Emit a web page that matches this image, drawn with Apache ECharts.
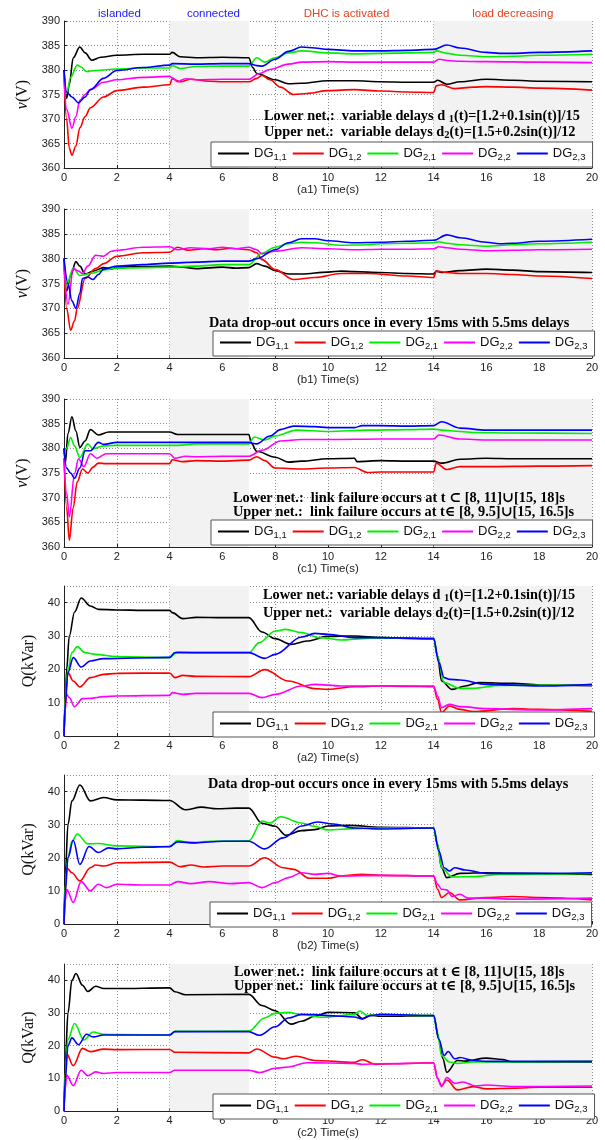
<!DOCTYPE html>
<html><head><meta charset="utf-8">
<script src="https://cdn.jsdelivr.net/npm/echarts@6/dist/echarts.min.js"></script>
<style>html,body{margin:0;padding:0;background:#fff}#c{width:605px;height:1140px}</style>
</head><body><div id="c"></div>
<script>
// ---------- data ----------
const seriesNames = ['DG1,1','DG1,2','DG2,1','DG2,2','DG2,3'];
const panelTags = ['(a1)','(b1)','(c1)','(a2)','(b2)','(c2)'];
const xTicks = {min:0, max:20, step:2};
const vTicks = {min:360, max:390, step:5};
const qTicks = {min:0, max:45, step:10};
const shadedSpans = [[4,7],[14,20]];
const phaseLabels = ['islanded','connected','DHC is activated','load decreasing'];
const phaseTimes = [2.1, 5.66, 10.7, 17.0];

// (a1) voltage, variable delays
const a1_DG11 = [[0,380],[0.1,374.2],[0.2,377],[0.35,382.5],[0.6,384.7],[0.8,383.5],[1.05,382],[1.4,382.6],[2,383],[3,383.2],[4,383.2],[4.1,383.6],[4.4,382.7],[5,382.5],[6,382.6],[7,382.5],[7.15,380.5],[7.3,379.3],[8,378],[8.5,377.2],[9,377.3],[10,377.8],[11,377.8],[12,377.6],[13,377.5],[14,377.5],[14.15,377.9],[14.5,377.1],[15,377.6],[16,378.1],[17,377.9],[18,377.7],[20,377.6]];
const a1_DG12 = [[0,379],[0.1,370],[0.2,364],[0.3,362.6],[0.45,364.5],[0.6,368.2],[0.8,370.5],[1,372.3],[1.5,374.5],[2,375.8],[3,376.5],[4,377],[4.1,378.2],[4.4,377.6],[4.8,378.1],[5.5,377.7],[6,377.6],[7,377.6],[7.3,378.3],[7.5,378.9],[7.8,378],[8.2,376.5],[8.7,375],[9.2,375.2],[10,375.8],[11,376],[12,375.7],[13,375.5],[14,375.4],[14.1,376.8],[14.3,377],[14.8,376.2],[15.5,376.5],[16,376.6],[17,376.5],[18,376.3],[20,375.9]];
const a1_DG21 = [[0,379],[0.1,375.2],[0.25,378.5],[0.5,381],[0.65,380.6],[0.85,379.7],[1.2,379.9],[2,380.2],[3,380.4],[4,380.4],[4.1,380.9],[4.4,380.3],[5,380.7],[6,380.8],[7,380.8],[7.3,382.5],[7.6,381.6],[8,382.5],[8.5,383.5],[9,383.9],[10,383.5],[11,383.3],[12,383.4],[13,383.5],[14,383.6],[14.1,383.9],[14.5,383.4],[15,383],[16,382.7],[17,382.8],[18,383],[20,383.2]];
const a1_DG22 = [[0,379],[0.1,372],[0.3,368.1],[0.45,370.5],[0.6,373.8],[0.8,375],[1,376],[1.5,377.5],[2,378],[3,378.5],[4,378.7],[4.1,378.4],[4.3,377.6],[4.6,378.2],[5,378],[6,378.1],[7,378.1],[7.4,379.3],[7.8,380.1],[8.5,381.2],[9,381.6],[10,381.7],[11,381.6],[12,381.6],[13,381.6],[14,381.6],[14.2,382.2],[14.6,381.9],[15,381.8],[16,381.7],[18,381.6],[20,381.5]];
const a1_DG23 = [[0,380],[0.1,375.5],[0.3,374.5],[0.55,373.3],[0.8,374.5],[1,376],[1.5,378.3],[2,379.9],[3,380.5],[4,381],[4.1,381.3],[5,381.2],[6,381.3],[7,381.3],[7.3,380.9],[7.5,380.8],[8,382.2],[8.5,383.8],[9,384.7],[9.5,384.5],[10,384.2],[11,383.9],[12,383.9],[13,384],[14,384.2],[14.5,385.1],[15,384.5],[16,383.6],[16.5,383.4],[17,383.4],[18,383.6],[20,383.9]];

// (b1) voltage, data drop-out
const b1_DG11 = [[0,380],[0.1,373.5],[0.25,376.5],[0.45,379.4],[0.6,378.5],[0.8,376.9],[1.1,377.5],[1.5,378.2],[1.8,377.9],[2,378.3],[3,378.4],[4,378.5],[4.5,378.3],[5,378],[6,378.3],[6.5,378.1],[7,378.2],[7.3,379],[7.6,378.5],[8,377.6],[8.5,376.9],[9,376.9],[10,377.3],[10.5,377.5],[11,377.4],[12,377.2],[13,377.0],[14,376.9],[14.1,377.5],[14.3,377.2],[15,377.6],[16,377.9],[17,377.7],[18,377.4],[20,377.2]];
const b1_DG12 = [[0,379],[0.1,370],[0.25,365.6],[0.4,367.5],[0.5,370],[0.8,376],[1.2,378],[1.5,379],[2,380.5],[3,381.2],[4,381.3],[4.3,382.3],[4.7,381.7],[5.3,382],[5.8,381.8],[6.3,382.1],[7,381.8],[7.3,381.2],[7.5,379.8],[8,377.8],[8.7,375.8],[9.5,376.2],[10.5,377],[11.5,377],[13,376.5],[14,376.2],[14.1,377.5],[14.5,377.2],[15,377],[16,377],[17,376.8],[18,376.5],[20,376]];
const b1_DG21 = [[0,379],[0.1,374.7],[0.35,378.1],[0.6,376.6],[1,377],[1.6,377.8],[2,378.1],[3,378.2],[4,378.3],[5,378.5],[6,378.8],[7,378.8],[7.5,381.1],[8,382.3],[8.5,383],[9,383.3],[9.5,383.2],[10.5,382.7],[11.5,382.8],[12,383],[13,383.1],[14,383.2],[14.2,383.4],[14.5,383.1],[15,382.8],[16,382.5],[17,382.8],[18,383],[20,383.3]];
const b1_DG22 = [[0,379],[0.15,370.8],[0.35,378],[0.55,377.5],[0.7,377],[0.9,378.5],[1.2,380.7],[1.5,380.5],[1.8,381.5],[2,381.7],[3,382.3],[4,382.4],[4.3,381.8],[4.8,382.2],[5.5,382],[6,382.3],[6.5,382],[7,382.3],[7.3,381.8],[7.5,381],[8,381.5],[9,382.2],[10,382],[11,381.8],[12,381.9],[13,381.9],[14,382],[14.2,382.4],[14.5,382.2],[15,381.9],[16,381.6],[17,381.7],[18,381.8],[20,381.9]];
const b1_DG23 = [[0,380.1],[0.15,375],[0.3,371.5],[0.45,370],[0.6,373],[0.7,376],[0.9,376.3],[1.1,375.8],[1.3,376.8],[1.5,377.9],[2,378.5],[3,378.8],[4,379.1],[5,379.3],[6,379.5],[7,379.5],[7.3,380],[8,381.8],[8.5,383.2],[9,384],[9.5,384],[10,383.6],[11,383.2],[12,383.3],[13,383.5],[14,383.7],[14.5,384.8],[15,384.2],[16,383.3],[16.5,383],[17,383.1],[18,383.5],[20,383.9]];

// (c1) voltage, link failure
const c1_DG11 = [[0,380],[0.05,377],[0.15,383],[0.3,386.4],[0.45,383.5],[0.6,380.2],[0.8,381.5],[1,383.8],[1.3,382.7],[1.7,383.3],[2,383.3],[3,383.3],[4,383.3],[4.3,382.8],[5,382.8],[6,382.8],[7,382.8],[7.1,381],[7.3,379.4],[8,378.2],[8.5,377.2],[9,377.4],[10,377.9],[11,378],[11.1,377.3],[12,377.5],[13,377.4],[14,377.4],[14.3,377],[15,377.8],[16,378],[17,377.9],[20,377.9]];
const c1_DG12 = [[0,378],[0.1,368],[0.2,361.4],[0.35,368],[0.5,373.2],[0.7,375.8],[0.9,375],[1.1,376.2],[1.3,377],[1.6,376.9],[2,376.9],[4,376.9],[4.1,377.7],[4.5,377.3],[5,377.5],[6,377.4],[7,377.6],[7.3,378.3],[7.6,377.5],[8,376],[9,375.8],[10,376],[11,376.1],[11.5,375.1],[12,375.2],[13,375.2],[14,375.2],[14.1,377],[14.5,375.7],[15,376.3],[16,376.3],[18,376.4],[20,376.5]];
const c1_DG21 = [[0,379],[0.1,380],[0.25,382.2],[0.4,380.5],[0.6,378.1],[0.9,380.9],[1.1,379.9],[1.5,380.5],[2,380.6],[3,380.6],[4,380.6],[4.3,380.6],[5,380.9],[6,380.9],[7,380.9],[7.2,382.3],[7.6,381.7],[8,382.5],[8.8,383.7],[10,383.4],[11.5,383.7],[13,383.8],[14,383.9],[14.3,383.7],[15,383.4],[15.5,383.2],[17,383.1],[20,383.0]];
const c1_DG22 = [[0,378],[0.1,371],[0.2,366.1],[0.4,374.9],[0.55,377.9],[0.75,376.3],[1,378.9],[1.25,378],[1.6,378.9],[2,378.9],[4,378.9],[4.2,378],[4.6,378.4],[5,378.3],[6,378.4],[7,378.4],[7.5,379.6],[8.2,381.5],[9,381.8],[10,381.8],[12,381.9],[14,381.9],[14.2,382.7],[15,381.9],[16,381.7],[20,381.7]];
const c1_DG23 = [[0,380],[0.1,376],[0.25,375],[0.4,373.9],[0.6,376],[0.8,379.5],[1,379.5],[1.3,381.2],[1.5,380.8],[2,381.2],[4,381.2],[5,381.2],[7,381.2],[7.3,380.9],[7.8,382.5],[8.2,383.8],[8.7,384.5],[9.5,384.4],[10,384.2],[11,384.2],[11.3,384.6],[12,384.6],[13,384.5],[14,384.6],[14.3,385.4],[15,384.1],[16,383.7],[18,383.7],[20,383.7]];

// (a2) reactive power, variable delays
const a2_DG11 = [[0,0],[0.05,10],[0.1,20],[0.2,30],[0.4,37.2],[0.65,41.4],[1,39],[1.3,38],[2,37.8],[3,37.7],[4,37.7],[4.1,37],[4.5,35.2],[5,35.6],[6,35.5],[7,35.5],[7.5,31.2],[8,29.2],[8.6,27.5],[9.2,28.5],[10,29.9],[11,30],[12,29.5],[13,29.3],[14,29.2],[14.15,24],[14.3,16.5],[14.7,14],[15.2,15],[15.7,16],[17,15.8],[18,15.3],[20,15.1]];
const a2_DG12 = [[0,0],[0.05,12],[0.15,19],[0.35,16.5],[0.6,14.7],[1,17.5],[1.5,18.5],[2,18.8],[4,18.9],[4.2,17.5],[4.5,18.2],[5,17.9],[7,17.8],[7.6,19.9],[8.5,16.5],[9.5,14.2],[10,14],[11,14.8],[12,15],[13,14.9],[14,14.8],[14.15,11],[14.3,7],[14.6,9],[15,8],[15.5,7.3],[17,8.2],[18,8],[20,7.4]];
const a2_DG21 = [[0,0],[0.05,12],[0.15,20],[0.3,25],[0.5,26.8],[0.8,25],[1.2,24.5],[2,23.8],[4,23.5],[4.3,25.2],[5,25],[7,25],[7.4,28],[8,31.5],[8.4,32],[9,31],[9.7,29.5],[10.5,28.8],[11.5,29.3],[12,29.5],[14,29.2],[14.15,24],[14.4,16],[15,14.3],[15.5,14.3],[16.5,15.2],[20,15.3]];
const a2_DG22 = [[0,0],[0.05,8],[0.1,12.5],[0.2,11.5],[0.4,8.8],[0.7,11.2],[1,11.3],[1.5,11.8],[2,12],[4,12.2],[4.1,13],[4.5,12.5],[5,12.8],[7,12.8],[7.5,11.5],[8,12.5],[9,15],[9.5,15.5],[10.5,15],[12,15],[14,15],[14.15,12],[14.3,8.5],[14.6,9.5],[15,8.8],[16,8.2],[18,7.8],[20,8.2]];
const a2_DG23 = [[0,0],[0.05,10],[0.15,19],[0.35,23.5],[0.65,20.7],[1,22.5],[1.5,23.2],[4,23.6],[4.2,25],[7,25],[7.6,23.3],[8,24.5],[9,29.7],[9.5,30.8],[10,30.5],[11,29.5],[12,29.5],[14,29.2],[14.2,22],[14.4,17.5],[14.6,17],[15,16.8],[16,15.5],[18,15],[20,15.5]];

// (b2) reactive power, data drop-out
const b2_DG11 = [[0,0],[0.05,15],[0.15,30],[0.3,37.2],[0.6,42],[1,37.2],[1.5,38.2],[2,37.5],[3,37.4],[4,37.3],[4.6,34.5],[5.2,35.3],[5.8,34.8],[6.5,35],[7,35],[7.5,30.4],[8,29.5],[8.4,26.8],[9,28.2],[9.5,28.5],[10,29.6],[10.8,29.8],[12,29.2],[14,29],[14.15,24],[14.3,17],[14.5,14],[15,15.3],[16,15.5],[17,15.3],[20,15]];
const b2_DG12 = [[0,0],[0.05,10],[0.1,17],[0.3,15.5],[0.6,13],[1,17],[1.2,17.8],[1.5,17.5],[2,18.5],[4,18.7],[4.4,17.3],[4.8,17.8],[5.3,17.2],[6,17.5],[7,17.5],[7.6,20],[8.3,17],[8.7,16.5],[9.3,13.8],[10,13.8],[10.5,14.5],[11.3,15],[12,14.7],[14,14.5],[14.15,10.5],[14.3,8],[14.6,9.5],[15,7.3],[16,8],[17,8.3],[18,8],[20,7.3]];
const b2_DG21 = [[0,0],[0.05,12],[0.15,20],[0.3,25],[0.5,27.2],[0.9,24.2],[1.3,24.3],[2,23.6],[4,23.3],[4.3,25.2],[4.8,24.5],[5.5,25],[7,25.1],[7.5,31.1],[7.8,30.5],[8.2,32.4],[9,30.5],[9.5,29.5],[10,28.4],[11,28.8],[12,29],[14,29],[14.15,24],[14.3,17],[14.7,14.2],[15.5,14.3],[16.5,15],[20,15.3]];
const b2_DG22 = [[0,0],[0.05,7],[0.1,10.5],[0.35,6.5],[0.65,12.8],[1,10],[1.3,12],[1.6,11],[2,12],[3,11.8],[4,11.8],[4.3,12.8],[4.8,12.2],[5.5,12.8],[6.3,12.2],[7,12.5],[7.5,11],[8,12.5],[8.5,14],[9,15.5],[9.5,15],[10,15.3],[10.5,14.5],[12,14.7],[14,14.5],[14.15,12],[14.3,10.5],[14.5,10.3],[14.7,8.3],[15,9],[15.3,7.8],[16,7.8],[17,7.5],[20,7.8]];
const b2_DG23 = [[0,0],[0.05,10],[0.15,20],[0.35,25.3],[0.6,18],[0.95,23.4],[1.3,21.6],[1.7,23],[2,22.7],[3,23.2],[4,23.4],[4.3,24.8],[5,24.5],[6,25],[7,25],[7.6,22.7],[8.3,26],[9,29.6],[9.6,30.8],[10.2,30.2],[11,29],[12,28.7],[14,29],[14.2,22],[14.4,17],[14.6,16],[14.8,17],[15.2,16.3],[16,15.3],[18,15.3],[20,15.5]];

// (c2) reactive power, link failure
const c2_DG11 = [[0,0],[0.05,15],[0.15,30],[0.3,40],[0.45,42.1],[0.7,38.5],[0.9,36.6],[1.2,38.2],[1.5,37.5],[2,37.5],[4,37.7],[4.2,36.5],[4.6,35.6],[7,35.7],[7.5,32.3],[8,30.7],[8.6,26.6],[9,27.5],[9.5,29],[10,30.2],[11,30.1],[11.3,28.3],[11.6,29.3],[12,29],[14,29.2],[14.2,22],[14.35,16],[14.5,11.9],[14.9,15.5],[15.2,15.3],[16,16.2],[16.6,15.8],[17,15],[20,15]];
const c2_DG12 = [[0,0],[0.05,10],[0.1,17.5],[0.35,13.9],[0.7,19.2],[1,18.2],[1.5,18.95],[2,18.8],[4,18.85],[4.2,18],[7,17.8],[7.3,19],[8,16.5],[8.3,16],[8.8,16.8],[9.5,15.5],[11,14.9],[11.3,15.7],[11.8,14.3],[12.5,14.5],[14,14.8],[14.15,10],[14.3,7.8],[14.5,9.5],[14.9,6.5],[15.5,7.5],[16,6.8],[17,7],[18,7.3],[20,7.3]];
const c2_DG21 = [[0,0],[0.05,12],[0.15,21.9],[0.4,26.8],[0.75,21.8],[1.1,24.2],[1.5,23.5],[2,23.4],[4,23.3],[4.2,24.4],[7,24.5],[7.6,28.5],[8,29.9],[8.5,30.2],[9,29.5],[9.8,28.7],[11,29.5],[11.2,30.6],[11.5,29.2],[12,29.5],[14,29.2],[14.15,24],[14.3,17],[14.6,15],[14.9,14.6],[15.5,15],[16,15],[20,15.2]];
const c2_DG22 = [[0,0],[0.05,7],[0.1,11],[0.35,7.8],[0.65,12.5],[0.9,10.8],[1.2,12],[1.5,11.5],[2,11.8],[4,11.8],[4.2,12.5],[7,12.5],[7.4,11.8],[8,13.1],[8.5,13.5],[9.2,14.8],[10,14.7],[11,14.6],[11.3,14.3],[12,14.5],[14,14.7],[14.15,10],[14.3,7.5],[14.5,10.3],[14.8,8.5],[15.1,8.9],[15.6,7.7],[16,8],[17,7.5],[20,7.7]];
const c2_DG23 = [[0,0],[0.05,10],[0.15,20],[0.3,22.4],[0.55,20.3],[0.85,23.5],[1.1,22.7],[1.5,23.3],[4,23.3],[4.2,24.3],[7,24.3],[7.4,23.2],[8,25.8],[8.5,28.5],[9,29.6],[9.5,29.5],[10,29.2],[11,28.8],[11.3,28.2],[11.6,29.2],[12,29.6],[14,29.2],[14.2,22],[14.4,17],[14.55,18.25],[14.8,16],[15,16.4],[15.5,15.5],[16,15.2],[20,15.2]];

const annotations = [
  ['{b|Lower net.:  variable delays d }{s|1}{b|(t)=[1.2+0.1sin(t)]/15}', '{b|Upper net.:  variable delays d}{s|2}{b|(t)=[1.5+0.2sin(t)]/12}'],
  ['{b|Data drop-out occurs once in every 15ms with 5.5ms delays}'],
  ['{b|Lower net.:  link failure occurs at t \u2282 [8, 11]\u222A[15, 18]s}', '{b|Upper net.:  link failure occurs at t\u2208 [8, 9.5]\u222A[15, 16.5]s}'],
  ['{b|Lower net.: variable delays d }{s|1}{b|(t)=[1.2+0.1sin(t)]/15}', '{b|Upper net.:  variable delays d}{s|2}{b|(t)=[1.5+0.2sin(t)]/12}'],
  ['{b|Data drop-out occurs once in every 15ms with 5.5ms delays}'],
  ['{b|Lower net.:  link failure occurs at t \u2208 [8, 11]\u222A[15, 18]s}', '{b|Upper net.:  link failure occurs at t\u2208 [8, 9.5]\u222A[15, 16.5]s}']
];

// ---------- layout (styling only) ----------
const panelData = [
  [a1_DG11,a1_DG12,a1_DG21,a1_DG22,a1_DG23],
  [b1_DG11,b1_DG12,b1_DG21,b1_DG22,b1_DG23],
  [c1_DG11,c1_DG12,c1_DG21,c1_DG22,c1_DG23],
  [a2_DG11,a2_DG12,a2_DG21,a2_DG22,a2_DG23],
  [b2_DG11,b2_DG12,b2_DG21,b2_DG22,b2_DG23],
  [c2_DG11,c2_DG12,c2_DG21,c2_DG22,c2_DG23]
];
const colors = ['#000000','#ff0000','#00ee00','#ff00ff','#0000ff'];
const gridTops = [21, 209, 399, 586, 775, 964];
const gridHeights = [147, 149, 148, 150, 149, 150];
const legendPos = [[211,142],[213,331],[211,520],[213,712],[210,902],[213,1094]];
const annotPos = [[264,[116,132]],[209,[323]],[233,[498,512]],[263,[595,613]],[208,[784]],[234,[972,986]]];
const GL = 64, GW = 528;

const grid = [], xAxis = [], yAxis = [], series = [], legend = [], graphic = [];
const serif = '"Liberation Serif", "DejaVu Serif", serif';
const sans = 'Arial, "Liberation Sans", Helvetica, sans-serif';

panelData.forEach((pd, i) => {
  const isV = i < 3;
  const yt = isV ? vTicks : qTicks;
  grid.push({left: GL, width: GW, top: gridTops[i], height: gridHeights[i], containLabel: false});
  xAxis.push({
    type: 'value', gridIndex: i, min: xTicks.min, max: xTicks.max, interval: xTicks.step,
    name: panelTags[i] + ' Time(s)', nameLocation: 'middle', nameGap: 15,
    nameTextStyle: {fontFamily: sans, fontSize: 11.5, color: '#222'},
    axisLine: {show: true, onZero: false, lineStyle: {color: '#222', width: 1}},
    axisTick: {inside: true, length: 3, lineStyle: {color: '#222'}},
    axisLabel: {fontFamily: sans, fontSize: 11, color: '#222', margin: 4},
    splitLine: {show: true, lineStyle: {type: [1, 2], color: '#8c8c8c', width: 1}}
  });
  yAxis.push({
    type: 'value', gridIndex: i, min: yt.min, max: yt.max, interval: yt.step,
    name: isV ? '{i|v}{n|(V)}' : '{n|Q(kVar)}', nameLocation: 'middle', nameGap: 27,
    nameTextStyle: {rich: {
      i: {fontFamily: serif, fontStyle: 'italic', fontSize: 16, color: '#111'},
      n: {fontFamily: serif, fontSize: 16, color: '#111'}
    }},
    axisLine: {show: true, onZero: false, lineStyle: {color: '#222', width: 1}},
    axisTick: {inside: true, length: 3, lineStyle: {color: '#222'}},
    axisLabel: {fontFamily: sans, fontSize: 11, color: '#222', margin: 4, showMaxLabel: isV},
    splitLine: {show: true, lineStyle: {type: [1, 2], color: '#8c8c8c', width: 1}}
  });
  // shaded time intervals
  series.push({
    type: 'line', xAxisIndex: i, yAxisIndex: i, data: [], z: -1, silent: true,
    markArea: {silent: true, itemStyle: {color: '#f2f2f2'},
      data: shadedSpans.map(s => [{xAxis: s[0]}, {xAxis: s[1]}])}
  });
  pd.forEach((d, k) => {
    series.push({
      name: seriesNames[k], type: 'line', xAxisIndex: i, yAxisIndex: i, data: d,
      showSymbol: false, symbol: 'none', smooth: 0.35, smoothMonotone: 'x',
      lineStyle: {color: colors[k], width: 1.6}, itemStyle: {color: colors[k]},
      animation: false, z: 2
    });
  });
  legend.push({
    left: legendPos[i][0], top: legendPos[i][1], orient: 'horizontal',
    data: seriesNames, selectedMode: false, icon: 'rect', itemWidth: 31, itemHeight: 2,
    itemGap: 6, padding: [5, 7], backgroundColor: '#fff', borderColor: '#555', borderWidth: 1,
    formatter: n => '{m|DG}{s|' + n.slice(2) + '}',
    textStyle: {rich: {
      m: {fontFamily: sans, fontSize: 13, color: '#111'},
      s: {fontFamily: sans, fontSize: 9.5, color: '#111', padding: [7, 0, 0, 0]}
    }}
  });
  const ap = annotPos[i];
  annotations[i].forEach((t, j) => {
    graphic.push({type: 'text', x: ap[0], y: ap[1][j], z: 100, silent: true,
      style: {text: t, verticalAlign: 'middle', align: 'left', fill: '#000',
        rich: {b: {font: 'bold 14.3px ' + serif, fill: '#000'},
               s: {font: 'bold 10.5px ' + serif, fill: '#000', padding: [7, 0, 0, 0]}}}});
  });
});

phaseLabels.forEach((t, j) => {
  graphic.push({type: 'text', x: GL + phaseTimes[j] / (xTicks.max - xTicks.min) * GW, y: 14, z: 100, silent: true,
    style: {text: t, align: 'center', verticalAlign: 'middle', font: '11.5px ' + sans,
      fill: j < 2 ? '#1a1aff' : '#e8401c'}});
});

const chart = echarts.init(document.getElementById('c'), null, {renderer: 'canvas'});
chart.setOption({animation: false, backgroundColor: '#fff', grid, xAxis, yAxis, series, legend, graphic});
</script></body></html>
